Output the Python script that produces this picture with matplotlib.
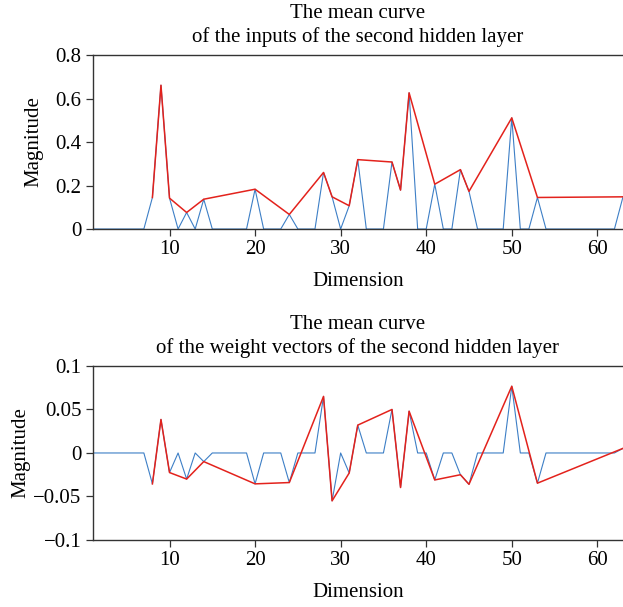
import numpy as np
import matplotlib.pyplot as plt

# dimension index 1..63
dims = np.arange(1, 64)

# mean inputs of the second hidden layer (zero everywhere except these)
inp_idx = [8, 9, 10, 12, 14, 20, 24, 28, 29, 31, 32, 36, 37, 38, 41, 44, 45, 50, 53, 63]
inp_val = [0.145, 0.661, 0.142, 0.076, 0.137, 0.183, 0.067, 0.260, 0.148, 0.107,
           0.319, 0.308, 0.179, 0.626, 0.206, 0.273, 0.173, 0.511, 0.145, 0.148]

# mean weight vectors of the second hidden layer
w_idx = [8, 9, 10, 12, 14, 20, 24, 28, 29, 31, 32, 36, 37, 38, 41, 44, 45, 50, 53, 63]
w_val = [-0.0355, 0.0385, -0.0225, -0.030, -0.0099, -0.0355, -0.034, 0.065, -0.055, -0.023,
         0.032, 0.050, -0.0397, 0.048, -0.031, -0.025, -0.036, 0.0767, -0.0347, 0.0053]

titles = ["The mean curve\nof the inputs of the second hidden layer",
          "The mean curve\nof the weight vectors of the second hidden layer"]
yticks_top = [0, 0.2, 0.4, 0.6, 0.8]
ylabels_top = ["0", "0.2", "0.4", "0.6", "0.8"]
yticks_bot = [-0.1, -0.05, 0, 0.05, 0.1]
ylabels_bot = ["\u22120.1", "\u22120.05", "0", "0.05", "0.1"]
xticks = [10, 20, 30, 40, 50, 60]

plt.rcParams['font.family'] = ['Liberation Serif', 'DejaVu Serif']
fs = 15

blue = '#3d7fc6'
red = '#e3221c'
spine_col = '#333333'

fig = plt.figure(figsize=(6.23, 6.07), dpi=100)
ax1 = fig.add_axes([0.1485, 0.6227, 0.8515, 0.2867])
ax2 = fig.add_axes([0.1485, 0.1104, 0.8515, 0.2867])

panels = [(ax1, inp_idx, inp_val, yticks_top, ylabels_top, (0, 0.8), -0.093),
          (ax2, w_idx, w_val, yticks_bot, ylabels_bot, (-0.1, 0.1), -0.118)]

for i, (ax, idx, val, yt, yl, ylim, lx) in enumerate(panels):
    full = np.zeros(len(dims))
    full[np.array(idx) - 1] = val
    ax.plot(dims, full, color=blue, lw=0.8, zorder=2)
    ax.plot(idx, val, color=red, lw=1.1, zorder=3)
    ax.set_xlim(1, 63)
    ax.set_ylim(*ylim)
    ax.set_xticks(xticks)
    ax.set_yticks(yt)
    ax.set_yticklabels(yl)
    ax.set_title(titles[i], fontsize=fs, pad=9, linespacing=1.3)
    ax.set_xlabel('Dimension', fontsize=fs, labelpad=9)
    ax.set_ylabel('Magnitude', fontsize=fs)
    ax.yaxis.set_label_coords(lx, 0.5)
    ax.spines['right'].set_visible(False)
    for s in ['left', 'bottom', 'top']:
        ax.spines[s].set_color(spine_col)
        ax.spines[s].set_linewidth(1.0)
    ax.tick_params(direction='out', length=5, width=0.9, color=spine_col, labelsize=fs, pad=3)

fig.savefig('out.png', dpi=100)
